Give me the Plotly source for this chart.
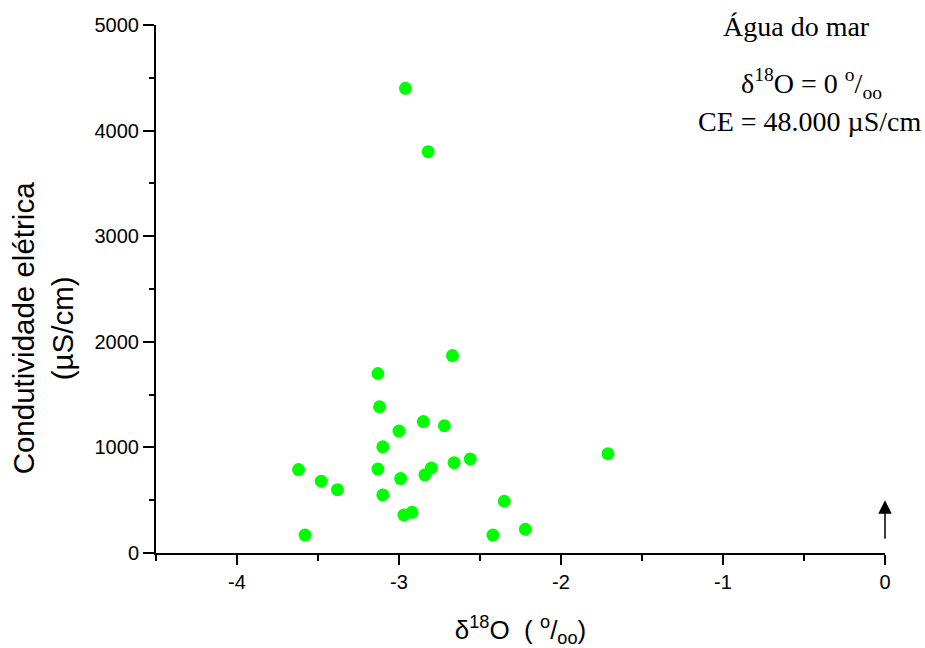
import plotly.graph_objects as go

# Data
d18O = [-2.96, -2.82, -2.67, -3.13, -3.12, -2.85, -2.72, -3.00, -3.10, -1.71,
        -2.56, -2.66, -2.80, -2.84, -3.62, -3.13, -2.99, -3.48, -3.38, -3.10,
        -2.35, -2.92, -2.97, -2.22, -2.42, -3.58]
ce = [4400, 3800, 1870, 1700, 1385, 1245, 1205, 1155, 1005, 940,
      890, 855, 805, 740, 790, 795, 705, 680, 600, 550,
      490, 385, 360, 225, 170, 170]

x_tickvals = [-4, -3, -2, -1, 0]
x_ticktext = ["-4", "-3", "-2", "-1", "0"]
y_tickvals = [0, 1000, 2000, 3000, 4000, 5000]
y_ticktext = ["0", "1000", "2000", "3000", "4000", "5000"]

seawater_d18O = 0
arrow_from, arrow_to = 120, 500

SANS = "Liberation Sans, Arial, sans-serif"
SERIF = "Liberation Serif, Times New Roman, serif"

fig = go.Figure()
fig.add_trace(go.Scatter(
    x=d18O, y=ce, mode="markers",
    marker=dict(color="#00ff00", size=13, line=dict(width=0)),
    showlegend=False, cliponaxis=False,
))

fig.add_annotation(
    x=seawater_d18O, y=arrow_to, ax=seawater_d18O, ay=arrow_from,
    xref="x", yref="y", axref="x", ayref="y",
    text="", showarrow=True, arrowhead=2, arrowsize=1.8, arrowwidth=1.5,
    arrowcolor="black",
)

fig.add_annotation(text="Água do mar", xref="paper", yref="paper",
                   x=0.879, y=0.998, xanchor="center", yanchor="middle",
                   showarrow=False, font=dict(family=SERIF, size=28, color="black"))
fig.add_annotation(text="δ<sup>18</sup>O = 0 <sup>o</sup>/<sub>oo</sub>",
                   xref="paper", yref="paper",
                   x=0.8985, y=0.889, xanchor="center", yanchor="middle",
                   showarrow=False, font=dict(family=SERIF, size=28, color="black"))
fig.add_annotation(text="CE = 48.000 µS/cm", xref="paper", yref="paper",
                   x=0.897, y=0.818, xanchor="center", yanchor="middle",
                   showarrow=False, font=dict(family=SERIF, size=28, color="black"))

# y-axis title (two centred lines, rotated)
fig.add_annotation(text="Condutividade elétrica<br>(µS/cm)", xref="paper", yref="paper",
                   x=-0.156, y=0.426, xanchor="center", yanchor="middle",
                   textangle=-90, showarrow=False,
                   font=dict(family=SANS, size=29.5, color="black"))

fig.update_layout(
    width=925, height=648,
    margin=dict(l=156, r=40, t=25, b=95),
    paper_bgcolor="white", plot_bgcolor="white",
    font=dict(family=SANS, color="black"),
)

fig.update_xaxes(
    range=[-4.5, 0], tickvals=x_tickvals, ticktext=x_ticktext, automargin=False,
    showgrid=False, zeroline=False, showline=True, linecolor="black", linewidth=2,
    ticks="outside", ticklen=10, tickwidth=2, tickcolor="black",
    tickfont=dict(family=SANS, size=20),
    minor=dict(dtick=0.5, tick0=0, ticks="outside", ticklen=6, tickwidth=2, tickcolor="black"),
    title=dict(text="δ<sup>18</sup>O  ( <sup>o</sup>/<sub>oo</sub>)",
               font=dict(family=SANS, size=26), standoff=32),
)
fig.update_yaxes(
    range=[0, 5000], tickvals=y_tickvals, ticktext=y_ticktext, automargin=False,
    showgrid=False, zeroline=False, showline=True, linecolor="black", linewidth=2,
    ticks="outside", ticklen=11, tickwidth=2, tickcolor="black",
    tickfont=dict(family=SANS, size=20),
    minor=dict(dtick=500, tick0=0, ticks="outside", ticklen=5, tickwidth=2, tickcolor="black"),
)

fig.write_html("out.html")
